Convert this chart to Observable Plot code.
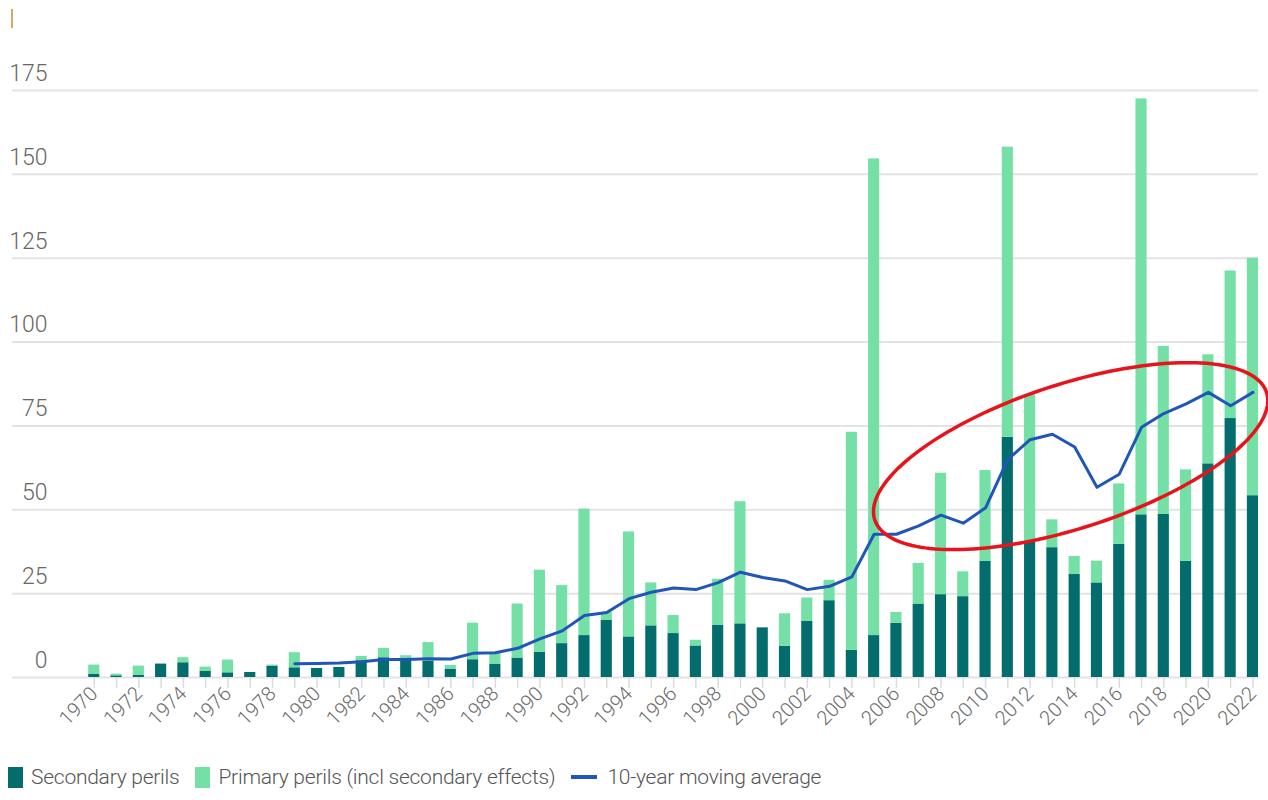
<!DOCTYPE html>
<html>
<head>
<meta charset="utf-8">
<script src="https://cdn.jsdelivr.net/npm/d3@7"></script>
<script src="https://cdn.jsdelivr.net/npm/@observablehq/plot@0.6"></script>
<style>
  html, body { margin: 0; padding: 0; background: #fff; }
  #wrap { position: relative; width: 1268px; height: 800px; font-family: Roboto, "Liberation Sans", sans-serif; }
  #mark { position: absolute; left: 11px; top: 9px; width: 1.5px; height: 19px; background: #d3a86f; }
  #legend { position: absolute; left: 8px; top: 765px; display: flex; align-items: center; font-size: 21px; font-weight: 300; color: #555; white-space: nowrap; letter-spacing: -0.25px; }
  .sw { display: inline-block; width: 15px; height: 21px; margin-right: 8px; }
  .ln { display: inline-block; width: 26px; height: 4px; margin-right: 10px; background: #1f56b7; }
  .item { display: flex; align-items: center; margin-right: 16px; }
</style>
</head>
<body>
<div id="wrap">
  <div id="chart"></div>
  <div id="mark"></div>
  <div id="legend">
    <span class="item"><span class="sw" style="background:#036d6d"></span>Secondary perils</span>
    <span class="item"><span class="sw" style="background:#74e0a5"></span>Primary perils (incl secondary effects)</span>
    <span class="item"><span class="ln"></span>10-year moving average</span>
  </div>
</div>
<script>
const years = [1970,1971,1972,1973,1974,1975,1976,1977,1978,1979,1980,1981,1982,1983,1984,1985,1986,1987,1988,1989,1990,1991,1992,1993,1994,1995,1996,1997,1998,1999,2000,2001,2002,2003,2004,2005,2006,2007,2008,2009,2010,2011,2012,2013,2014,2015,2016,2017,2018,2019,2020,2021,2022];

const secondary = [1.0,0.5,0.6,4.0,4.4,1.9,1.4,1.5,3.4,2.9,2.7,3.0,5.0,5.9,5.5,4.8,2.5,5.3,4.0,5.8,7.5,10.1,12.5,17.0,12.1,15.4,13.1,9.4,15.6,16.0,14.8,9.3,16.7,22.9,8.1,12.5,16.2,21.9,24.7,24.1,34.6,71.6,40.6,38.7,30.7,28.2,39.7,48.5,48.7,34.6,63.7,77.2,54.2];

const primary = [2.7,0.5,2.8,0,1.5,1.2,3.8,0,0.3,4.5,0,0,1.3,2.8,1.0,5.6,1.1,10.9,3.1,16.1,24.5,17.3,37.7,2.4,31.3,12.8,5.4,1.7,13.7,36.4,0,9.7,7.0,6.1,65.0,142.1,3.2,12.1,36.2,7.4,27.1,86.5,43.6,8.3,5.4,6.5,18.0,124.0,50.0,27.3,32.5,44.0,70.8];

const avgYears = [1979,1980,1981,1982,1983,1984,1985,1986,1987,1988,1989,1990,1991,1992,1993,1994,1995,1996,1997,1998,1999,2000,2001,2002,2003,2004,2005,2006,2007,2008,2009,2010,2011,2012,2013,2014,2015,2016,2017,2018,2019,2020,2021,2022];
const movingAvg = [4.1,4.2,4.3,4.7,5.4,5.4,5.6,5.5,7.2,7.4,8.7,11.5,13.9,18.5,19.4,23.5,25.4,26.7,26.2,28.3,31.4,29.8,28.8,26.2,27.2,30.0,42.7,42.7,45.2,48.4,46.0,50.6,65.0,70.9,72.5,68.7,56.7,60.6,74.6,78.7,81.6,85.0,81.0,85.0];

const yTicks = [0,25,50,75,100,125,150,175];
const seriesNames = ["Secondary perils", "Primary perils (incl secondary effects)", "10-year moving average"];

// highlight annotation (red ellipse), centre in data units
const ellipseCenter = {year: 2013.82, value: 66.0};

// ---- layout constants
const W = 1268, H = 750, ML = 12, MR = 10, MT = 90, MB = 73;
const xDomain = [1966.33, 2022.25];
const yDomain = [0, 175];

// build tables
const bars = years.map((yr, i) => ({year: yr, sec: secondary[i], tot: secondary[i] + primary[i]}));
const avg = avgYears.map((yr, i) => ({year: yr, value: movingAvg[i]}));

// ellipse points, defined in screen-proportional units and mapped to data units
const pxPerYear = (W - ML - MR) / (xDomain[1] - xDomain[0]);
const pxPerUnit = (H - MT - MB) / (yDomain[1] - yDomain[0]);
const ea = 206, eb = 72, eth = -18 * Math.PI / 180;
const ellipse = d3.range(0, 181).map(k => {
  const t = k / 180 * 2 * Math.PI;
  const dx = ea * Math.cos(t) * Math.cos(eth) - eb * Math.sin(t) * Math.sin(eth);
  const dy = ea * Math.cos(t) * Math.sin(eth) + eb * Math.sin(t) * Math.cos(eth);
  return {year: ellipseCenter.year + dx / pxPerYear, value: ellipseCenter.value - dy / pxPerUnit};
});

const chart = Plot.plot({
  width: W, height: H,
  marginLeft: ML, marginRight: MR, marginTop: MT, marginBottom: MB,
  x: {type: "linear", domain: xDomain},
  y: {domain: yDomain},
  style: {fontFamily: "Roboto, 'Liberation Sans', sans-serif", background: "#fff", overflow: "visible"},
  marks: [
    Plot.gridY(yTicks, {stroke: "#e3e3e3", strokeOpacity: 1, strokeWidth: 2}),
    Plot.axisY(yTicks, {anchor: "left", tickSize: 0, dx: 44, dy: -17, fontSize: 23, fontWeight: 300, fill: "#666", label: null, tickFormat: d => String(d)}),
    Plot.axisX(years, {anchor: "bottom", tickSize: 11, tickPadding: 2, stroke: "#dcdcdc", strokeWidth: 1.5, fill: "#6a6a6a", fontSize: 20, fontWeight: 300, tickRotate: -45, label: null, tickFormat: d => d % 2 === 0 ? String(d) : ""}),
    Plot.rect(bars, {x1: d => d.year - 0.25, x2: d => d.year + 0.25, y1: 0, y2: "sec", fill: "#036d6d"}),
    Plot.rect(bars, {x1: d => d.year - 0.25, x2: d => d.year + 0.25, y1: "sec", y2: "tot", fill: "#74e0a5"}),
    Plot.line(avg, {x: "year", y: "value", stroke: "#1f56b7", strokeWidth: 3}),
    Plot.line(ellipse, {x: "year", y: "value", stroke: "#e8141c", strokeWidth: 3.5})
  ]
});
document.getElementById("chart").appendChild(chart);
</script>
</body>
</html>
